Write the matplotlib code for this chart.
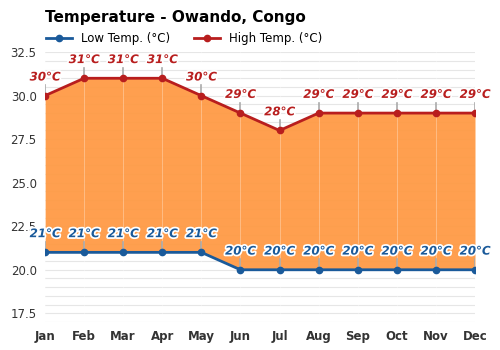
import matplotlib.pyplot as plt
import matplotlib.patheffects as pe

months = ['Jan', 'Feb', 'Mar', 'Apr', 'May', 'Jun',
          'Jul', 'Aug', 'Sep', 'Oct', 'Nov', 'Dec']
low_temp = [21, 21, 21, 21, 21, 20, 20, 20, 20, 20, 20, 20]
high_temp = [30, 31, 31, 31, 30, 29, 28, 29, 29, 29, 29, 29]

low_color = '#1a5a9a'
high_color = '#b81e1e'
fill_color = '#ff9a45'

fig = plt.figure(figsize=(5, 3.5), dpi=100)
ax = fig.add_axes([0.09, 0.08, 0.86, 0.771])

x = list(range(len(months)))

# faint grid every 0.5 degrees
for v in [17 + 0.5 * i for i in range(32)]:
    ax.axhline(v, color='#e6e6e6', lw=0.8, zorder=0)

ax.fill_between(x, low_temp, high_temp, color=fill_color, alpha=0.95, lw=0, zorder=1)
for xi in x:
    ax.axvline(xi, color='white', lw=0.6, alpha=0.35, zorder=1.5)

# small ticks from each point up to its label
for xi, lo, hi in zip(x, low_temp, high_temp):
    ax.plot([xi, xi], [hi, hi + 0.6], color='#aaaaaa', lw=1.2, zorder=2)
    ax.plot([xi, xi], [lo, lo + 0.6], color='#aaaaaa', lw=1.2, zorder=2)

ax.plot(x, low_temp, color=low_color, lw=2, marker='o', ms=4.5, zorder=3,
        label='Low Temp. (°C)')
ax.plot(x, high_temp, color=high_color, lw=2, marker='o', ms=4.5, zorder=3,
        label='High Temp. (°C)')

stroke = [pe.withStroke(linewidth=2.5, foreground='white')]
for xi, lo, hi in zip(x, low_temp, high_temp):
    ax.text(xi, hi + 0.7, f'{hi}°C', color=high_color, fontsize=8.5,
            fontweight='bold', style='italic', ha='center', va='bottom',
            path_effects=stroke, zorder=4, clip_on=False)
    ax.text(xi, lo + 0.7, f'{lo}°C', color=low_color, fontsize=8.5,
            fontweight='bold', style='italic', ha='center', va='bottom',
            path_effects=stroke, zorder=4, clip_on=False)

ax.set_xlim(0, 11)
ax.set_ylim(17, 32.5)
ax.set_yticks([17.5, 20.0, 22.5, 25.0, 27.5, 30.0, 32.5])
ax.set_yticklabels(['17.5', '20.0', '22.5', '25.0', '27.5', '30.0', '32.5'],
                   fontsize=8.5, color='#333333')
ax.set_xticks(x)
ax.set_xticklabels(months, fontsize=8.5, fontweight='bold', color='#333333')
ax.tick_params(length=0, pad=6)
for s in ax.spines.values():
    s.set_visible(False)

fig.text(0.09, 0.95, 'Temperature - Owando, Congo', fontsize=11,
         fontweight='bold', ha='left', va='center')
ax.legend(loc='lower left', bbox_to_anchor=(-0.015, 1.0), ncol=2, frameon=False,
          fontsize=8.5, handlelength=2.2, columnspacing=2.0, borderaxespad=0.2)

fig.savefig('out.png', dpi=100)
